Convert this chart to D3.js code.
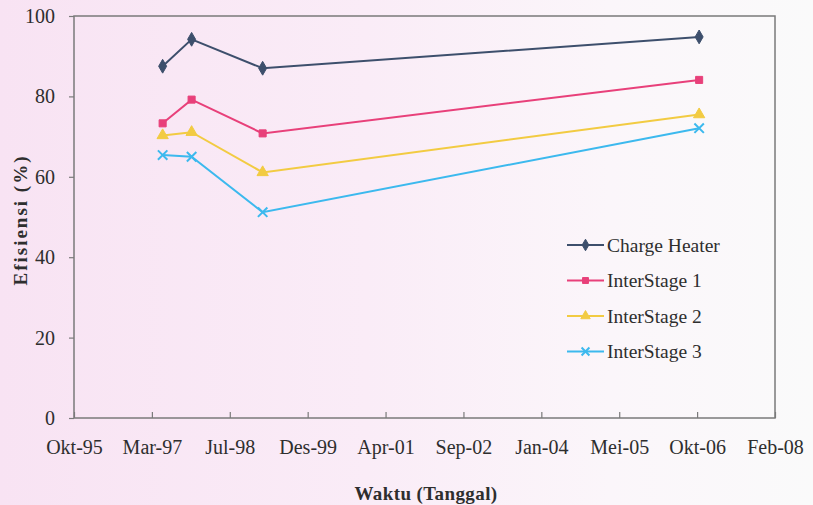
<!DOCTYPE html>
<html>
<head>
<meta charset="utf-8">
<script src="https://cdn.jsdelivr.net/npm/d3@7"></script>
<style>
  body { margin: 0; padding: 0; }
  svg { display: block; }
  svg text { font-family: "Liberation Serif", "Times New Roman", "DejaVu Serif", serif !important; }
</style>
</head>
<body>
<svg id="chart" width="813" height="505"></svg>
<script>
// data
let dates = ["1997-05-19", "1997-11-21", "1999-02-20", "2006-10-23"];
let chargeHeater = [87.5, 94.2, 87.0, 94.8];
let interStage1 = [73.3, 79.2, 70.8, 84.1];
let interStage2 = [70.3, 71.1, 61.1, 75.5];
let interStage3 = [65.4, 65.0, 51.2, 72.1];
let seriesNames = ["Charge Heater", "InterStage 1", "InterStage 2", "InterStage 3"];
let xTickLabels = ["Okt-95", "Mar-97", "Jul-98", "Des-99", "Apr-01", "Sep-02", "Jan-04", "Mei-05", "Okt-06", "Feb-08"];
let yTicks = [0, 20, 40, 60, 80, 100];

let axisStart = new Date("1995-10-28");
let axisEnd = new Date("2008-02-22");
let dayStep = 500;

let svg = d3.select("#chart");
let width = +svg.attr("width");
let height = +svg.attr("height");
let margin = {top: 16, right: 38, bottom: 87, left: 74};

// scanned-paper background
let defs = svg.append("defs");
let grad = defs.append("linearGradient").attr("id", "paper")
    .attr("x1", "0%").attr("x2", "100%").attr("y1", "0%").attr("y2", "0%");
grad.append("stop").attr("offset", "0%").attr("stop-color", "#f8e3f3");
grad.append("stop").attr("offset", "45%").attr("stop-color", "#faecf7");
grad.append("stop").attr("offset", "75%").attr("stop-color", "#fbf6fa");
grad.append("stop").attr("offset", "100%").attr("stop-color", "#fafafa");
svg.append("rect").attr("width", width).attr("height", height).attr("fill", "url(#paper)");

let xScale = d3.scaleUtc()
    .domain([axisStart, axisEnd])
    .range([margin.left, width - margin.right]);

let yScale = d3.scaleLinear()
    .domain([0, 100])
    .range([height - margin.bottom, margin.top]);

let tickDates = xTickLabels.map(function (d, i) {
    return new Date(axisStart.getTime() + i * dayStep * 86400000);
});

// plot frame
svg.append("rect")
    .attr("x", margin.left)
    .attr("y", margin.top)
    .attr("width", width - margin.left - margin.right)
    .attr("height", height - margin.top - margin.bottom)
    .attr("fill", "none")
    .attr("stroke", "#7a7a7a")
    .attr("stroke-width", 1.5);

// x axis: ticks pointing inward
let xAxis = d3.axisBottom(xScale)
    .tickValues(tickDates)
    .tickSize(-6)
    .tickPadding(14)
    .tickFormat(function (d, i) { return xTickLabels[i]; });
let gx = svg.append("g")
    .attr("transform", "translate(0," + (height - margin.bottom) + ")")
    .call(xAxis);
gx.attr("font-family", null).attr("font-size", null);
gx.select(".domain").remove();
gx.selectAll("line").attr("stroke", "#7a7a7a").attr("stroke-width", 1.2);
gx.selectAll("text")
    .style("font-size", "20px")
    .attr("fill", "#2e2e2e")
    .attr("dy", "1.1em");

// y axis: ticks pointing outward
let yAxis = d3.axisLeft(yScale)
    .tickValues(yTicks)
    .tickSize(5)
    .tickPadding(14);
let gy = svg.append("g")
    .attr("transform", "translate(" + margin.left + ",0)")
    .call(yAxis);
gy.attr("font-family", null).attr("font-size", null);
gy.select(".domain").remove();
gy.selectAll("line").attr("stroke", "#7a7a7a").attr("stroke-width", 1.2);
gy.selectAll("text")
    .style("font-size", "20px")
    .attr("fill", "#2e2e2e");

// axis titles
svg.append("text")
    .attr("x", 426)
    .attr("y", 500)
    .attr("text-anchor", "middle")
    .style("font-size", "19px")
    .style("font-weight", "bold")
    .attr("letter-spacing", 0.4)
    .attr("fill", "#2e2e2e")
    .text("Waktu (Tanggal)");

svg.append("text")
    .attr("transform", "translate(27,220) rotate(-90)")
    .attr("text-anchor", "middle")
    .style("font-size", "19px")
    .style("font-weight", "bold")
    .attr("letter-spacing", 2)
    .attr("fill", "#2e2e2e")
    .text("Efisiensi (%)");

// series
let colors = ["#3d4f6c", "#e8407a", "#f2cb42", "#3cb9ee"];
let markers = [d3.symbolDiamond, d3.symbolSquare, d3.symbolTriangle, d3.symbolX];
let markerSizes = [55, 50, 55, 60];
let allSeries = [chargeHeater, interStage1, interStage2, interStage3];

let line = d3.line()
    .x(function (d) { return xScale(d.date); })
    .y(function (d) { return yScale(d.value); });

function drawMarker(g, i, x, y, scale) {
    let sym = d3.symbol().type(markers[i]).size(markerSizes[i] * (scale || 1));
    let m = g.append("path")
        .attr("d", sym)
        .attr("transform", "translate(" + x + "," + y + ")");
    if (markers[i] === d3.symbolX) {
        m.attr("fill", "none").attr("stroke", colors[i]).attr("stroke-width", 2);
    } else {
        m.attr("fill", colors[i]).attr("stroke", colors[i]).attr("stroke-width", 1);
    }
}

allSeries.forEach(function (values, i) {
    let pts = values.map(function (v, j) {
        return {date: new Date(dates[j]), value: v};
    });
    let g = svg.append("g");
    g.append("path")
        .datum(pts)
        .attr("d", line)
        .attr("fill", "none")
        .attr("stroke", colors[i])
        .attr("stroke-width", 2);
    pts.forEach(function (p) {
        drawMarker(g, i, xScale(p.date), yScale(p.value));
    });
});

// legend
let legendX = 567;
let legendY = 245;
let legendStep = 35.5;
seriesNames.forEach(function (name, i) {
    let y = legendY + i * legendStep;
    let g = svg.append("g");
    g.append("line")
        .attr("x1", legendX).attr("x2", legendX + 37)
        .attr("y1", y).attr("y2", y)
        .attr("stroke", colors[i])
        .attr("stroke-width", 2);
    drawMarker(g, i, legendX + 18.5, y, 0.7);
    g.append("text")
        .attr("x", legendX + 40)
        .attr("y", y)
        .attr("dy", "0.35em")
        .style("font-size", "19.5px")
        .attr("fill", "#2e2e2e")
        .text(name);
});
</script>
</body>
</html>
